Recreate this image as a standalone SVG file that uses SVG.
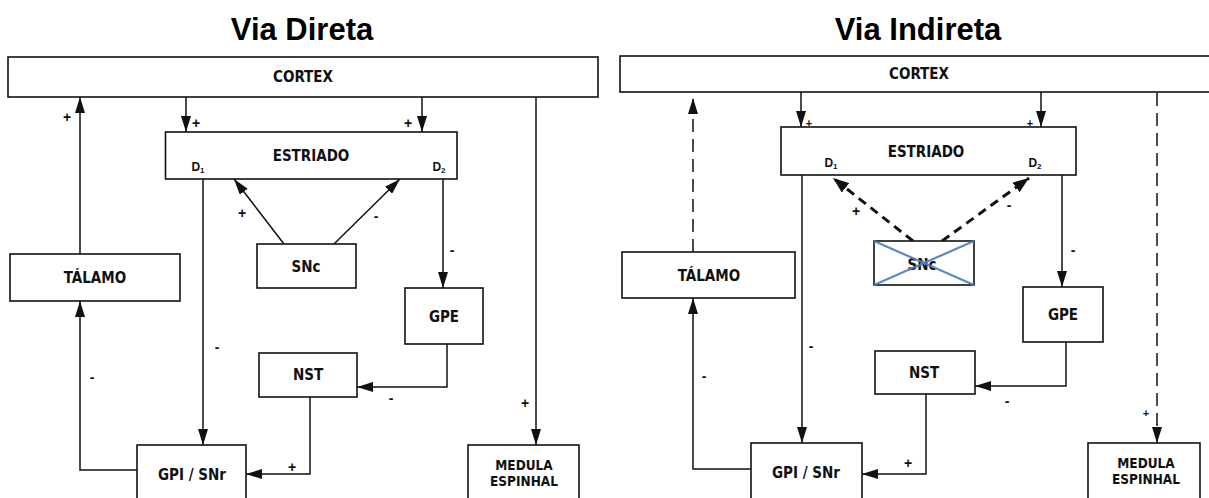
<svg xmlns="http://www.w3.org/2000/svg" width="1209" height="498" viewBox="0 0 1209 498">
<style>
.bg{fill:#fff}
.box{fill:#fff;stroke:#111;stroke-width:1.6}
.lbl{font-family:"Liberation Sans Narrow","DejaVu Sans Condensed","Liberation Sans",sans-serif;font-weight:bold;font-size:15px;fill:#111;text-anchor:middle;dominant-baseline:central}
.lbl2{font-family:"Liberation Sans Narrow","DejaVu Sans Condensed","Liberation Sans",sans-serif;font-weight:bold;font-size:13.5px;fill:#111;text-anchor:middle}
.title{font-family:"Liberation Sans",Arial,sans-serif;font-weight:bold;font-size:31px;fill:#000;text-anchor:middle}
.d{font-family:"Liberation Sans Narrow","Liberation Sans",sans-serif;font-weight:bold;font-size:12px;fill:#111;text-anchor:middle}
.sg{font-family:"Liberation Sans",Arial,sans-serif;font-weight:bold;font-size:14px;fill:#111;text-anchor:middle;dominant-baseline:central}
.sgs{font-family:"Liberation Sans",Arial,sans-serif;font-weight:bold;font-size:11px;fill:#111;text-anchor:middle;dominant-baseline:central}
.ln{fill:none;stroke:#111;stroke-width:1.5}
.dash{fill:none;stroke:#111;stroke-width:1.5;stroke-dasharray:13 7}
.dashb{fill:none;stroke:#111;stroke-width:3;stroke-dasharray:9 6}
.x{stroke:#4a7fc1;stroke-width:2.2;opacity:0.9}
</style>
<defs>
<marker id="ah" viewBox="0 0 16 10" refX="16" refY="5" markerWidth="16" markerHeight="10" markerUnits="userSpaceOnUse" orient="auto">
<path d="M0,0 L16,5 L0,10 z" fill="#111"/>
</marker>
<marker id="ahb" viewBox="0 0 16 12" refX="16" refY="6" markerWidth="16" markerHeight="12" markerUnits="userSpaceOnUse" orient="auto">
<path d="M0,0 L16,6 L0,12 z" fill="#111"/>
</marker>
</defs>
<rect class="bg" x="0" y="0" width="1209" height="498"/>

<text class="title" x="302" y="40">Via Direta</text>
<text class="title" x="918" y="40">Via Indireta</text>

<g id="connectors">
<!-- left -->
<path class="ln" d="M137,470 H80 V301" marker-end="url(#ah)"/>
<path class="ln" d="M80,254 V97" marker-end="url(#ah)"/>
<path class="ln" d="M186,97 V132" marker-end="url(#ah)"/>
<path class="ln" d="M422,97 V132" marker-end="url(#ah)"/>
<path class="ln" d="M536,97 V445" marker-end="url(#ah)"/>
<path class="ln" d="M203,179 V445" marker-end="url(#ah)"/>
<path class="ln" d="M284,244 L234,179" marker-end="url(#ah)"/>
<path class="ln" d="M334,244 L400,179" marker-end="url(#ah)"/>
<path class="ln" d="M443,179 V288" marker-end="url(#ah)"/>
<path class="ln" d="M447,344 V387 H357" marker-end="url(#ah)"/>
<path class="ln" d="M310,397 V474 H246" marker-end="url(#ah)"/>
<!-- right -->
<path class="ln" d="M751,469 H693 V298" marker-end="url(#ah)"/>
<path class="dash" d="M693,252 V98" marker-end="url(#ah)"/>
<path class="ln" d="M801,92 V127" marker-end="url(#ah)"/>
<path class="ln" d="M1041,92 V127" marker-end="url(#ah)"/>
<path class="dash" d="M1157,93 V443" marker-end="url(#ah)"/>
<path class="ln" d="M802,175 V443" marker-end="url(#ah)"/>
<path class="dashb" d="M913,241 L833,178" marker-end="url(#ahb)"/>
<path class="dashb" d="M942,241 L1029,178" marker-end="url(#ahb)"/>
<path class="ln" d="M1062,175 V287" marker-end="url(#ah)"/>
<path class="ln" d="M1066,342 V386 H975" marker-end="url(#ah)"/>
<path class="ln" d="M926,394 V474 H862" marker-end="url(#ah)"/>
</g>

<!-- left nodes -->
<g id="cortex-l"><rect class="box" x="8" y="57" width="590" height="40"/><text class="lbl" x="303" y="77">CORTEX</text></g>
<g id="estriado-l"><rect class="box" x="165.5" y="132" width="291.5" height="47"/><text class="lbl" x="311" y="156">ESTRIADO</text>
<text class="d" x="198" y="171">D<tspan font-size="8" dy="2">1</tspan></text>
<text class="d" x="439" y="171">D<tspan font-size="8" dy="2">2</tspan></text></g>
<g id="snc-l"><rect class="box" x="257" y="244" width="99" height="44"/><text class="lbl" x="306" y="267">SNc</text></g>
<g id="talamo-l"><rect class="box" x="10" y="254" width="170" height="47"/><text class="lbl" x="95" y="278">TÁLAMO</text></g>
<g id="gpe-l"><rect class="box" x="405" y="288" width="78" height="56"/><text class="lbl" x="444" y="317">GPE</text></g>
<g id="nst-l"><rect class="box" x="259" y="353" width="98" height="44"/><text class="lbl" x="308" y="375">NST</text></g>
<g id="gpi-l"><rect class="box" x="137" y="445" width="109" height="60"/><text class="lbl" x="192" y="475">GPI / SNr</text></g>
<g id="medula-l"><rect class="box" x="468" y="445" width="111" height="60"/><text class="lbl2" x="524" y="470">MEDULA</text><text class="lbl2" x="524" y="486">ESPINHAL</text></g>

<g id="signs-l">
<text class="sg" x="67" y="117">+</text>
<text class="sg" x="196" y="123">+</text>
<text class="sg" x="408" y="123">+</text>
<text class="sg" x="242" y="213">+</text>
<text class="sg" x="376" y="216">-</text>
<text class="sg" x="452" y="250">-</text>
<text class="sg" x="217" y="347">-</text>
<text class="sg" x="92" y="377">-</text>
<text class="sg" x="391" y="398">-</text>
<text class="sg" x="525" y="403">+</text>
<text class="sg" x="292" y="467">+</text>
</g>

<!-- right nodes -->
<g id="cortex-r"><rect class="box" x="620" y="56" width="600" height="36"/><text class="lbl" x="919" y="74">CORTEX</text></g>
<g id="estriado-r"><rect class="box" x="781" y="127" width="295" height="48"/><text class="lbl" x="926" y="152">ESTRIADO</text>
<text class="d" x="831" y="167">D<tspan font-size="8" dy="2">1</tspan></text>
<text class="d" x="1035" y="167">D<tspan font-size="8" dy="2">2</tspan></text></g>
<g id="snc-r"><rect class="box" x="874" y="241" width="100" height="44"/><text class="lbl" x="922" y="265">SNc</text>
<line class="x" x1="874" y1="241" x2="974" y2="285"/><line class="x" x1="874" y1="285" x2="974" y2="241"/></g>
<g id="talamo-r"><rect class="box" x="622" y="252" width="173" height="46"/><text class="lbl" x="709" y="276">TÁLAMO</text></g>
<g id="gpe-r"><rect class="box" x="1023" y="287" width="80" height="55"/><text class="lbl" x="1063" y="315">GPE</text></g>
<g id="nst-r"><rect class="box" x="875" y="351" width="100" height="43"/><text class="lbl" x="924" y="373">NST</text></g>
<g id="gpi-r"><rect class="box" x="751" y="443" width="111" height="60"/><text class="lbl" x="806" y="473">GPI / SNr</text></g>
<g id="medula-r"><rect class="box" x="1088" y="443" width="112" height="60"/><text class="lbl2" x="1146" y="468">MEDULA</text><text class="lbl2" x="1146" y="484">ESPINHAL</text></g>

<g id="signs-r">
<text class="sgs" x="809" y="123">+</text>
<text class="sgs" x="1030" y="123">+</text>
<text class="sg" x="856" y="211">+</text>
<text class="sg" x="1009" y="205">-</text>
<text class="sg" x="1073" y="250">-</text>
<text class="sg" x="811" y="346">-</text>
<text class="sg" x="704" y="376">-</text>
<text class="sg" x="1007" y="401">-</text>
<text class="sgs" x="1146" y="413">+</text>
<text class="sg" x="908" y="463">+</text>
</g>
</svg>
